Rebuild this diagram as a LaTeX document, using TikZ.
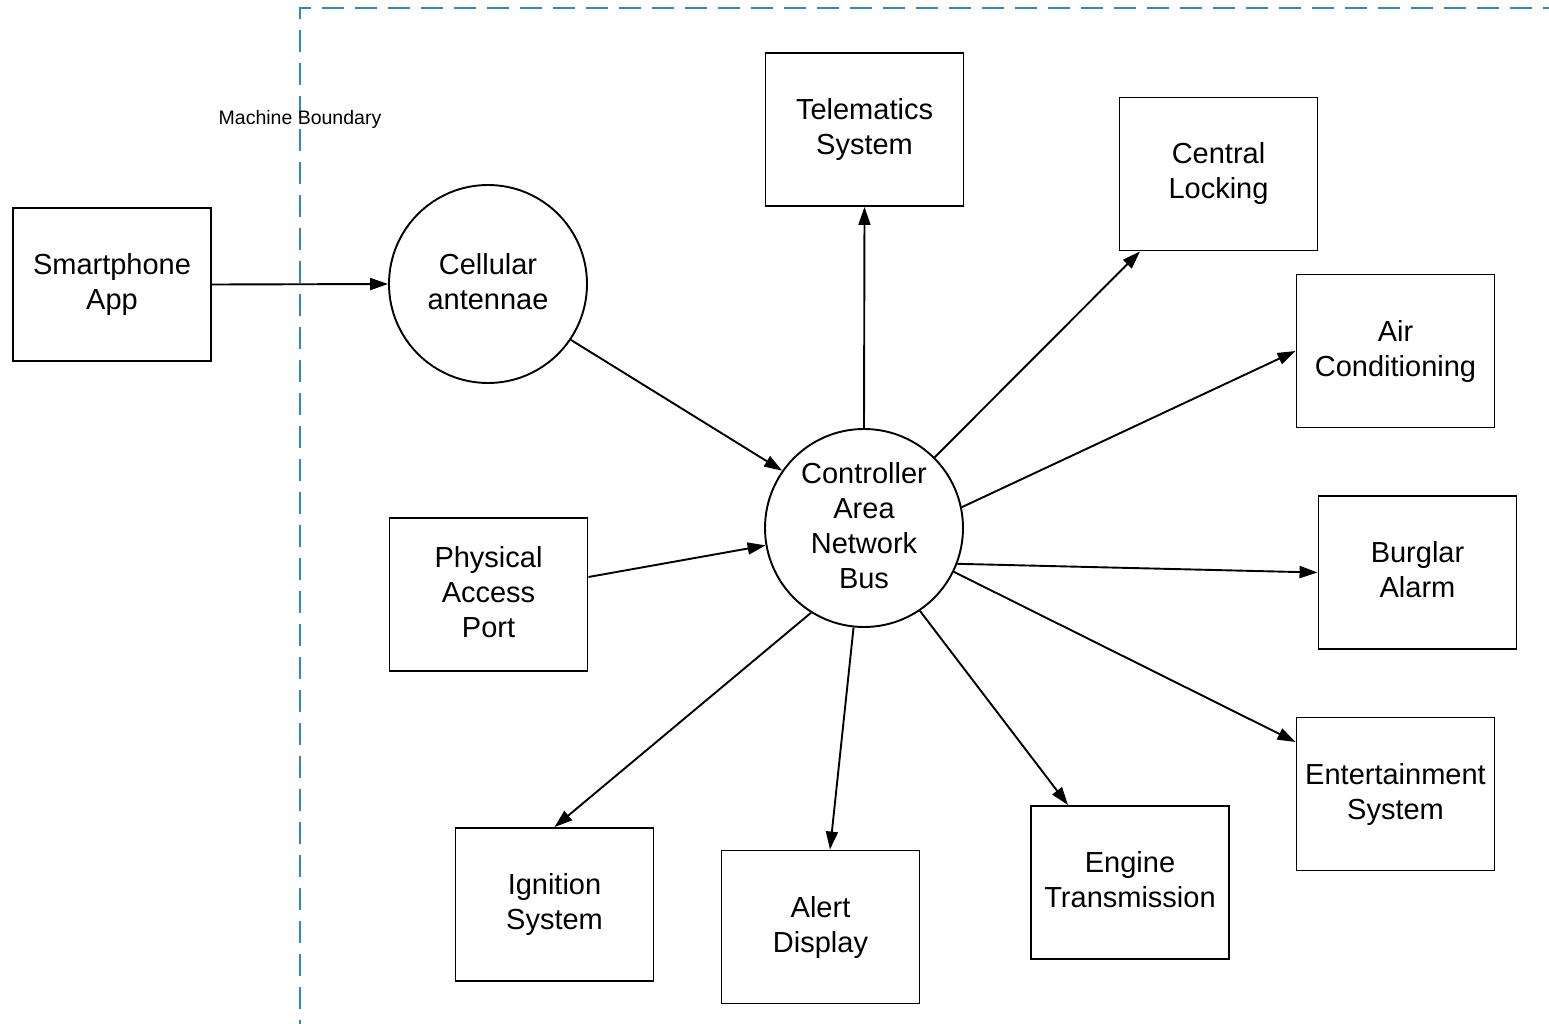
\documentclass[tikz,border=0pt]{standalone}
\usepackage{fontspec}
\setmainfont{Liberation Sans}
\usetikzlibrary{arrows.meta,calc}
\definecolor{boundblue}{HTML}{2B8AC6}

\begin{document}
\begin{tikzpicture}[x=1pt,y=-1pt,
  % text box height runs from the top of the first line to the last baseline
  lbl/.style={font=\fontsize{29}{35}\selectfont, align=center, text=black,
              text height=56pt, text depth=6pt},
  threelines/.style={text height=91pt},
  fourlines/.style={text height=126pt},
  blk/.style={lbl, draw, line width=1.9pt, minimum width=198pt, minimum height=153pt, inner sep=0pt},
  disc/.style={lbl, draw, circle, line width=1.9pt, minimum size=198pt, inner sep=0pt},
  flow/.style={line width=1.9pt, -{Triangle[length=18pt,width=12pt]}},
  bound/.style={draw=boundblue, line width=2.2pt, dash pattern=on 22pt off 11pt, dash phase=18pt}]

\useasboundingbox (0,0) rectangle (1549,1024);

% machine boundary
\coordinate (bb) at (300,1024);
\coordinate (bc) at (300,8);
\coordinate (br) at (1549,8);
\draw[bound] (bb) -- (bc) -- (br);
\node[font=\fontsize{19.5}{23}\selectfont] (mb) at (300,119) {Machine Boundary};

% nodes
\node[blk]  (sp)  at (112,284.5)   {Smartphone\\App};
\node[disc] (ca)  at (488,284)     {Cellular\\antennae};
\node[disc,fourlines] (can) at (864,528) {Controller\\Area\\Network\\Bus};
\node[blk,threelines] (pap) at (488.5,594.5) {Physical\\Access\\Port};
\node[blk]  (tel) at (864.5,129.5) {Telematics\\System};
\node[blk]  (cl)  at (1218.5,174)  {Central\\Locking};
\node[blk]  (ac)  at (1395.5,351)  {Air\\Conditioning};
\node[blk]  (ba)  at (1417.5,572.5){Burglar\\Alarm};
\node[blk]  (es)  at (1395.5,794)  {Entertainment\\System};
\node[blk]  (et)  at (1130,882.5)  {Engine\\Transmission};
\node[blk]  (ad)  at (820.5,927)   {Alert\\Display};
\node[blk]  (ig)  at (554.5,904.5) {Ignition\\System};

% connectors
\draw[flow] (sp.east) -- (ca.west);
\draw[flow] (ca.-34.8) -- (can.145.1);
\draw[flow] ([yshift=17.5pt]pap.east) -- (can.190.9);
\draw[flow] (can.north) -- (tel.south);
\draw[flow] (can.45) -- ([xshift=-78.5pt]cl.south);
\draw[flow] (can.12.7) -- (ac.west);
\draw[flow] (can.-21.7) -- (ba.west);
\draw[flow] (can.-26.8) -- ([yshift=52pt]es.west);
\draw[flow] (can.-56.3) -- ([xshift=-62pt]et.north);
\draw[flow] (can.-96.3) -- ([xshift=9.5pt]ad.north);
\draw[flow] (can.-122.9) -- (ig.north);
\end{tikzpicture}
\end{document}
